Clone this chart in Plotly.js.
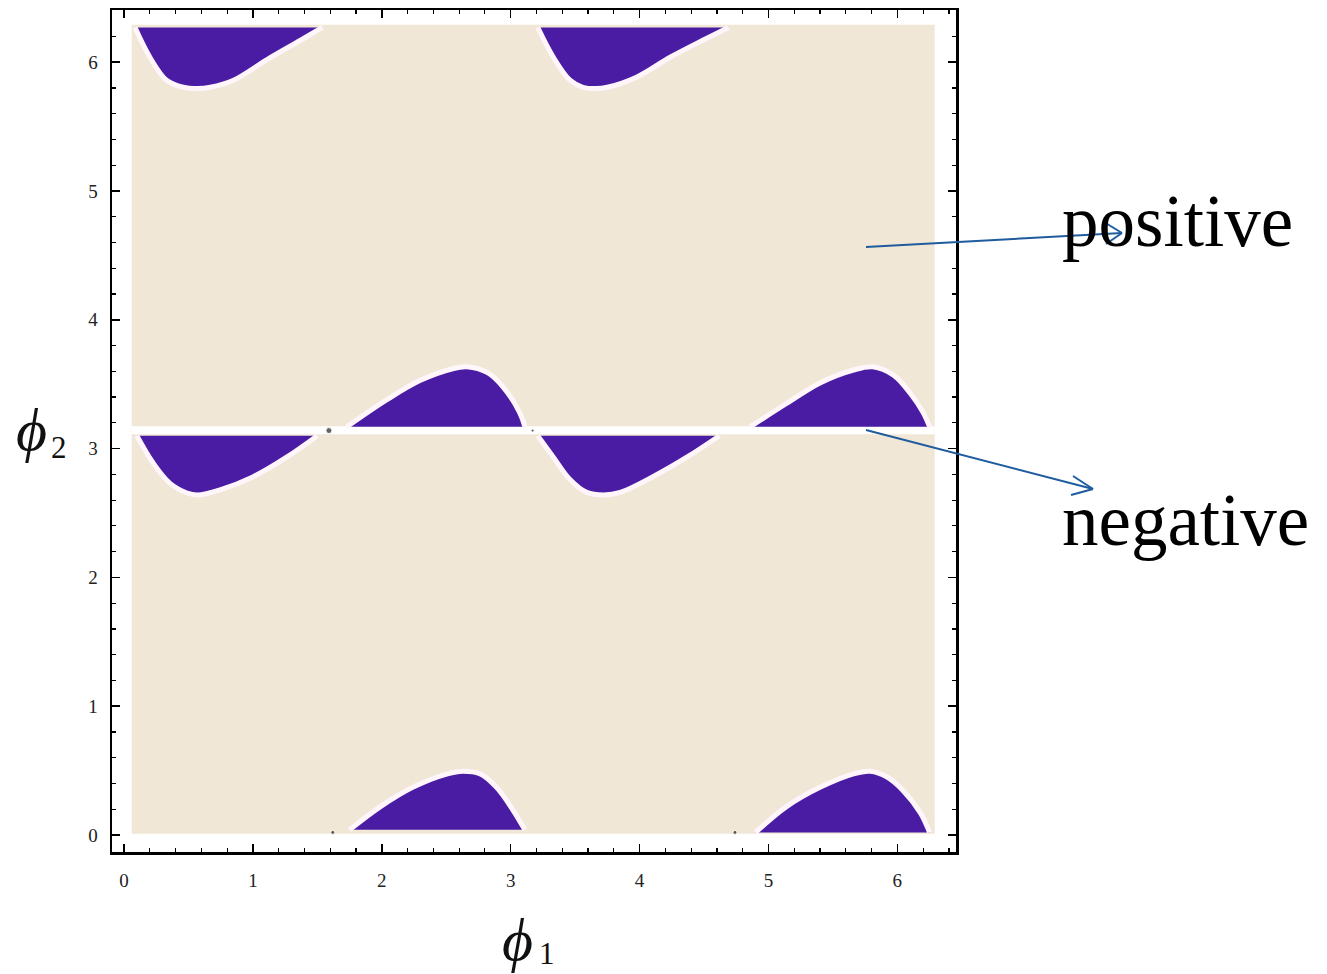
<!DOCTYPE html>
<html>
<head>
<meta charset="utf-8">
<script src="https://cdn.plot.ly/plotly-3.0.1.min.js"></script>
<style>html,body{margin:0;padding:0;background:#fff;}#chart{width:1327px;height:974px;}</style>
</head>
<body>
<div id="chart"></div>
<script>
// ---- Region boundaries (phi1, phi2) ----
// Lobes hanging down from phi2 = 2π
const topLobe1X = [0.085, 0.20, 0.33, 0.46, 0.57, 0.67, 0.85, 1.11, 1.37, 1.54];
const topLobe1Y = [6.27, 6.04, 5.86, 5.805, 5.795, 5.805, 5.86, 6.02, 6.17, 6.27];
const topLobe2X = [3.21, 3.33, 3.46, 3.56, 3.66, 3.75, 3.98, 4.24, 4.49, 4.69];
const topLobe2Y = [6.27, 6.04, 5.86, 5.805, 5.795, 5.805, 5.885, 6.04, 6.17, 6.27];
// Lobes hanging down from phi2 = π
const midLowLobe1X = [0.10, 0.225, 0.357, 0.49, 0.57, 0.745, 1.00, 1.265, 1.50];
const midLowLobe1Y = [3.10, 2.89, 2.73, 2.655, 2.64, 2.68, 2.78, 2.935, 3.10];
const midLowLobe2X = [3.21, 3.33, 3.46, 3.59, 3.72, 3.85, 4.10, 4.37, 4.62];
const midLowLobe2Y = [3.10, 2.935, 2.76, 2.66, 2.64, 2.66, 2.78, 2.935, 3.10];
// Lobes rising from phi2 = π
const midUpLobe1X = [1.73, 2.04, 2.30, 2.55, 2.66, 2.82, 2.94, 3.07, 3.11];
const midUpLobe1Y = [3.17, 3.38, 3.53, 3.62, 3.635, 3.59, 3.48, 3.28, 3.17];
const midUpLobe2X = [4.86, 5.14, 5.40, 5.66, 5.81, 5.97, 6.10, 6.20, 6.25];
const midUpLobe2Y = [3.17, 3.35, 3.51, 3.61, 3.635, 3.57, 3.43, 3.28, 3.17];
// Lobes rising from phi2 = 0
const botLobe1X = [1.75, 1.99, 2.24, 2.51, 2.63, 2.76, 2.89, 3.02, 3.11];
const botLobe1Y = [0.04, 0.22, 0.37, 0.475, 0.495, 0.475, 0.37, 0.19, 0.04];
const botLobe2X = [4.90, 5.14, 5.40, 5.66, 5.79, 5.92, 6.04, 6.18, 6.25];
const botLobe2Y = [0.02, 0.22, 0.37, 0.475, 0.495, 0.45, 0.35, 0.17, 0.02];
// isolated small specks
const speckX = [1.59, 3.17, 1.62, 4.74];
const speckY = [3.14, 3.14, 0.02, 0.02];
const speckSize = [6, 3, 4, 4];

const tickVals = [0, 1, 2, 3, 4, 5, 6];
const tickText = ['0', '1', '2', '3', '4', '5', '6'];

// ---- styles ----
const PURPLE = '#4a1ca4';
const BEIGE = '#f1e7d6';
const ARROW = '#1f5c9e';
const SERIF = 'Liberation Serif, DejaVu Serif, serif';

const lobes = [
  [topLobe1X, topLobe1Y], [topLobe2X, topLobe2Y],
  [midLowLobe1X, midLowLobe1Y], [midLowLobe2X, midLowLobe2Y],
  [midUpLobe1X, midUpLobe1Y], [midUpLobe2X, midUpLobe2Y],
  [botLobe1X, botLobe1Y], [botLobe2X, botLobe2Y]
];

const traces = lobes.map(([x, y]) => ({
  type: 'scatter', mode: 'lines', x: x, y: y,
  fill: 'toself', fillcolor: PURPLE,
  line: {color: '#fff6fc', width: 5, shape: 'spline', smoothing: 1},
  hoverinfo: 'skip', showlegend: false
}));
traces.push({
  type: 'scatter', mode: 'markers', x: speckX, y: speckY,
  marker: {color: '#222', size: speckSize},
  hoverinfo: 'skip', showlegend: false
});

// plot area geometry in pixels
const L = 112, T = 10, W = 844, H = 842;
function P(px, py) { return [(px - L) / W, (T + H - py) / H]; }
function seg(a, b) {
  const p = P(a[0], a[1]), q = P(b[0], b[1]);
  return {type: 'line', xref: 'paper', yref: 'paper', x0: p[0], y0: p[1], x1: q[0], y1: q[1],
          line: {color: ARROW, width: 2}, layer: 'above'};
}
function label(px, py, text, size, italic, anchor, vanchor) {
  return {xref: 'paper', yref: 'paper', x: P(px, 0)[0], y: P(0, py)[1],
          xanchor: anchor || 'center', yanchor: vanchor || 'middle',
          text: italic ? '<i>' + text + '</i>' : text, showarrow: false,
          font: {family: SERIF, size: size, color: '#111'}};
}

const axisCommon = {
  showgrid: false, zeroline: false,
  showline: true, linecolor: '#000', linewidth: 2.5, mirror: 'ticks',
  ticks: 'inside', ticklen: 8, tickwidth: 1.5, tickcolor: '#000',
  tickvals: tickVals, ticktext: tickText,
  tickfont: {family: SERIF, size: 19, color: '#222'},
  minor: {ticks: 'inside', dtick: 0.2, ticklen: 4, tickwidth: 1.2, tickcolor: '#000', showgrid: false}
};

const layout = {
  width: 1327, height: 974,
  margin: {l: L, r: 1327 - L - W, t: T, b: 974 - T - H},
  paper_bgcolor: '#fff', plot_bgcolor: '#fff',
  showlegend: false,
  xaxis: Object.assign({}, axisCommon, {range: [-0.093, 6.455], ticklabelstandoff: 10}),
  yaxis: Object.assign({}, axisCommon, {range: [-0.132, 6.405], ticklabelstandoff: 8}),
  shapes: [
    {type: 'rect', xref: 'x', yref: 'y', x0: 0.06, x1: 6.29, y0: 0.01, y1: 6.29,
     fillcolor: BEIGE, line: {width: 0}, layer: 'below'},
    {type: 'line', xref: 'x', yref: 'y', x0: 0.06, x1: 6.29, y0: Math.PI, y1: Math.PI,
     line: {color: '#ffffff', width: 8}, layer: 'below'},
    // arrows
    seg([866, 247], [1122, 233]),
    seg([1104, 222], [1122, 233]),
    seg([1106, 244], [1122, 233]),
    seg([866, 430], [1093, 489]),
    seg([1073, 476], [1093, 489]),
    seg([1071, 495], [1093, 489])
  ],
  annotations: [
    label(517, 940, 'ϕ', 60, true),
    label(547, 973, '1', 31, false, 'center', 'bottom'),
    label(31, 430, 'ϕ', 60, true),
    label(59, 448, '2', 31, false),
    Object.assign(label(1060, 222, 'positive', 73, false, 'left'), {font: {family: SERIF, size: 73, color: '#000'}}),
    Object.assign(label(1060, 520, 'negative', 73, false, 'left'), {font: {family: SERIF, size: 73, color: '#000'}})
  ]
};

Plotly.newPlot('chart', traces, layout, {displayModeBar: false, staticPlot: true});
</script>
</body>
</html>
